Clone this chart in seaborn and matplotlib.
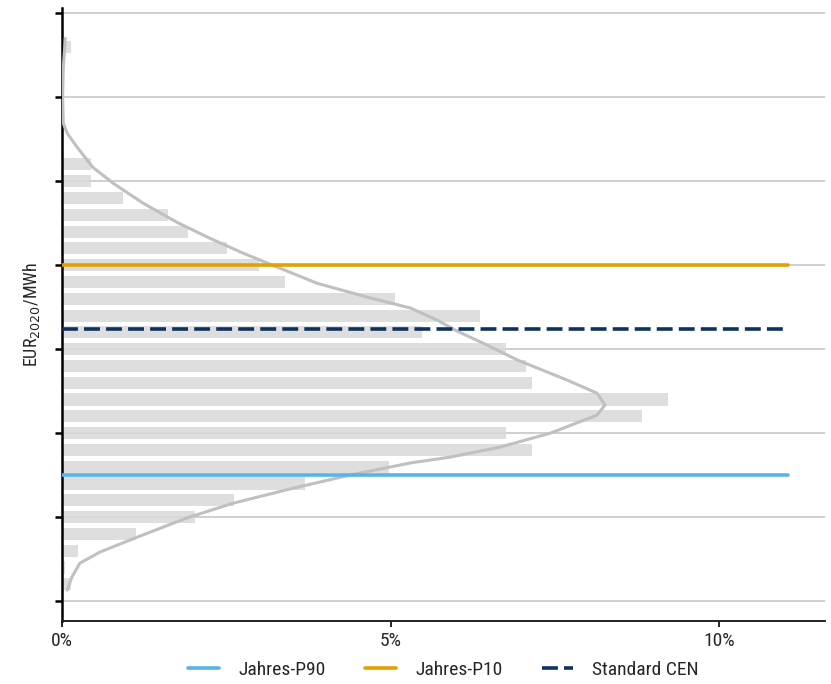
"""Price distribution histogram with fitted density and reference levels."""

import matplotlib

matplotlib.use("Agg")
import matplotlib.pyplot as plt
import pandas as pd
import seaborn as sns
from matplotlib.ticker import FuncFormatter

# histogram: bin centres (EUR2020/MWh) and share of hours (%)
bin_centers = [4, 8, 12, 16, 20, 24, 28, 32, 36, 40, 44, 48, 52, 56,
               60, 64, 68, 72, 76, 80, 84, 88, 92, 96, 100, 104, 132]
bin_share = [0.14, 0.05, 0.25, 1.13, 2.02, 2.61, 3.70, 4.98, 7.15, 6.76,
             8.83, 9.22, 7.15, 7.06, 6.76, 5.48, 6.36, 5.07, 3.40, 3.00,
             2.51, 1.92, 1.61, 0.93, 0.44, 0.44, 0.14]

# fitted density curve (share %, price)
curve_share = [0.05, 0.02, 0.01, 0.02, 0.08, 0.23, 0.47, 0.78, 1.23, 1.75,
               2.25, 2.75, 3.17, 3.88, 4.64, 5.30, 5.71, 6.01, 6.41, 6.93,
               7.69, 8.14, 8.26, 8.14, 7.43, 6.67, 5.91, 5.30, 4.38, 3.52,
               2.60, 1.90, 1.14, 0.58, 0.27, 0.15, 0.08]
curve_price = [134.0, 127.1, 120.2, 113.8, 111.4, 108.1, 103.3, 99.5, 94.8,
               90.2, 86.4, 82.9, 80.2, 75.7, 72.4, 69.8, 66.9, 64.3, 61.4,
               57.4, 52.6, 49.5, 46.7, 44.3, 40.0, 36.7, 34.3, 32.9, 30.0,
               26.9, 23.3, 19.8, 15.2, 11.7, 9.0, 5.7, 2.6]

# reference levels
ref_names = ["Jahres-P90", "Jahres-P10", "Standard CEN"]
ref_values = [30.0, 80.0, 64.8]
ref_colors = ["#56b4e9", "#e69f00", "#0b3360"]
ref_styles = ["-", "-", (0, (4.4, 1.7))]

y_ticks = [0, 20, 40, 60, 80, 100, 120, 140]
x_ticks = [0, 5, 10]

sns.set_theme(style="white")
plt.rcParams["font.family"] = ["Roboto Condensed", "Liberation Sans Narrow",
                               "Roboto", "DejaVu Sans"]

fig = plt.figure(figsize=(8.31, 6.84), dpi=100)
ax = fig.add_axes([0.0746, 0.092, 0.9184, 0.896])

ax.grid(axis="y", color="#cccccc", linewidth=1.3, zorder=0)
ax.set_axisbelow(True)

hist_df = pd.DataFrame({"price": bin_centers, "share": bin_share})
sns.histplot(
    data=hist_df,
    y="price",
    weights="share",
    binwidth=4,
    binrange=(2, 134),
    shrink=0.72,
    color="#d9d9d9",
    edgecolor="none",
    alpha=0.85,
    ax=ax,
)

curve_df = pd.DataFrame({"share": curve_share, "price": curve_price})
sns.lineplot(data=curve_df, x="share", y="price", sort=False, estimator=None,
             errorbar=None, color="#c0c0c0", linewidth=2.2, ax=ax, zorder=3)

for name, value, color, style in zip(ref_names, ref_values, ref_colors, ref_styles):
    ax.plot([0, 11.05], [value, value], color=color, linestyle=style,
            linewidth=2.6, label=name, zorder=4)

ax.set_xlim(0, 11.61)
ax.set_ylim(-4.76, 141.2)
ax.set_xticks(x_ticks)
ax.xaxis.set_major_formatter(FuncFormatter(lambda v, _: f"{v:.0f}%"))
ax.set_yticks(y_ticks)
ax.set_yticklabels([])
ax.set_xlabel("")
ax.set_ylabel("EUR$_{2020}$/MWh", fontsize=13, labelpad=6)

for side in ["top", "right"]:
    ax.spines[side].set_visible(False)
ax.spines["left"].set_color("black")
ax.spines["left"].set_linewidth(1.8)
ax.spines["bottom"].set_color("#222222")
ax.spines["bottom"].set_linewidth(1.4)
ax.tick_params(axis="y", left=True, length=5, width=1.8, color="black")
ax.tick_params(axis="x", bottom=True, length=4, width=1.2, color="black",
               labelsize=14, pad=4)

ax.legend(loc="center", bbox_to_anchor=(0.5, -0.08), ncol=3,
          frameon=False, fontsize=14, handlelength=1.6, handletextpad=1.0,
          columnspacing=2.0)

fig.savefig("out.png", dpi=100)
plt.close(fig)
